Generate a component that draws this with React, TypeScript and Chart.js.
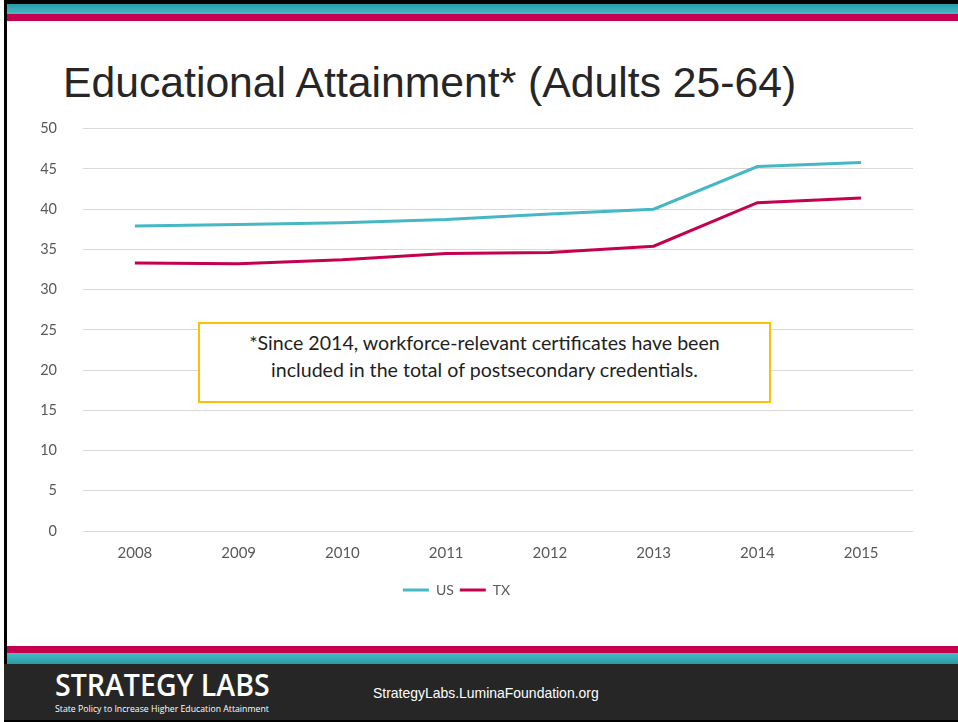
import React, { useEffect, useRef } from "react";
import { Chart, registerables } from "chart.js";

Chart.register(...registerables);

const years = ["2008", "2009", "2010", "2011", "2012", "2013", "2014", "2015"];
const usValues = [37.9, 38.1, 38.3, 38.7, 39.4, 40.0, 45.3, 45.8];
const txValues = [33.3, 33.2, 33.7, 34.5, 34.6, 35.4, 40.8, 41.4];
const yMin = 0;
const yMax = 50;
const yStep = 5;

const titleText = "Educational Attainment* (Adults 25-64)";
const noteLines = [
  "*Since 2014, workforce-relevant certificates have been",
  "included in the total of postsecondary credentials.",
];

const TEAL = "#44b8c4";
const CRIMSON = "#c4004f";

export default function App() {
  const canvasRef = useRef<HTMLCanvasElement | null>(null);

  useEffect(() => {
    const canvas = canvasRef.current;
    if (!canvas) return;
    const chart = new Chart(canvas, {
      type: "line",
      data: {
        labels: years,
        datasets: [
          {
            label: "US",
            data: usValues,
            borderColor: TEAL,
            backgroundColor: TEAL,
            borderWidth: 3,
            pointRadius: 0,
            tension: 0,
          },
          {
            label: "TX",
            data: txValues,
            borderColor: CRIMSON,
            backgroundColor: CRIMSON,
            borderWidth: 3,
            pointRadius: 0,
            tension: 0,
          },
        ],
      },
      options: {
        responsive: false,
        animation: false,
        devicePixelRatio: 1,
        layout: { padding: { left: 0, right: 45, top: 2, bottom: 3 } },
        plugins: {
          tooltip: { enabled: false },
          legend: {
            position: "bottom",
            labels: {
              usePointStyle: true,
              pointStyle: "line",
              pointStyleWidth: 26,
              padding: 6,
              color: "#595959",
              font: { family: "Lato", size: 14 },
            },
          },
        },
        scales: {
          x: {
            offset: true,
            grid: { display: false, drawTicks: false },
            border: { display: false },
            ticks: {
              color: "#595959",
              font: { family: "Lato", size: 15 },
              padding: 13,
            },
            afterFit: (scale: any) => {
              scale.height = 46;
            },
          },
          y: {
            min: yMin,
            max: yMax,
            grid: { color: "#d9d9d9", lineWidth: 1, drawTicks: false },
            border: { display: false },
            ticks: {
              stepSize: yStep,
              color: "#595959",
              font: { family: "Lato", size: 14.5 },
              padding: 26,
            },
            afterFit: (scale: any) => {
              scale.width = 83;
            },
          },
        },
      },
    });
    return () => chart.destroy();
  }, []);

  return (
    <div
      style={{
        position: "fixed",
        left: 0,
        top: 0,
        width: 958,
        height: 722,
        overflow: "hidden",
        background: "#ffffff",
      }}
    >
      {/* top border and bands */}
      <div style={{ position: "absolute", left: 4, top: 0, width: 954, height: 4, background: "#000" }} />
      <div
        style={{
          position: "absolute",
          left: 7,
          top: 4,
          width: 951,
          height: 10,
          background: "linear-gradient(#2a9aa6, #45bcc7)",
        }}
      />
      <div style={{ position: "absolute", left: 7, top: 14, width: 951, height: 7, background: CRIMSON }} />
      <div style={{ position: "absolute", left: 4, top: 0, width: 3, height: 722, background: "#000" }} />

      {/* title */}
      <div
        style={{
          position: "absolute",
          left: 63,
          top: 57,
          fontFamily: "'Liberation Sans', Arial, sans-serif",
          fontSize: 42.7,
          lineHeight: "50px",
          color: "#262626",
          whiteSpace: "nowrap",
        }}
      >
        {titleText}
      </div>

      <canvas
        ref={canvasRef}
        width={958}
        height={516}
        style={{ position: "absolute", left: 0, top: 94, width: 958, height: 516 }}
      />

      {/* note box */}
      <div
        style={{
          position: "absolute",
          left: 198,
          top: 322,
          width: 573,
          height: 81,
          boxSizing: "border-box",
          border: "2px solid #ffc000",
          background: "#ffffff",
          paddingTop: 5,
          display: "flex",
          flexDirection: "column",
          justifyContent: "flex-start",
          alignItems: "center",
          fontFamily: "Lato, sans-serif",
          fontSize: 19.6,
          lineHeight: "27px",
          color: "#1f1f1f",
          textAlign: "center",
        }}
      >
        {noteLines.map((l, i) => (
          <div key={i} style={{ whiteSpace: "nowrap" }}>
            {l}
          </div>
        ))}
      </div>

      {/* footer */}
      <div style={{ position: "absolute", left: 7, top: 646, width: 951, height: 7, background: CRIMSON }} />
      <div
        style={{
          position: "absolute",
          left: 7,
          top: 653,
          width: 951,
          height: 11,
          background: "linear-gradient(#45bcc7, #2a9aa6)",
        }}
      />
      <div style={{ position: "absolute", left: 4, top: 664, width: 954, height: 56, background: "#262626" }} />
      <div style={{ position: "absolute", left: 4, top: 720, width: 954, height: 2, background: "#000" }} />

      <div
        style={{
          position: "absolute",
          left: 55,
          top: 666,
          fontFamily: "'Open Sans', sans-serif",
          fontWeight: 600,
          fontSize: 31,
          lineHeight: "37px",
          color: "#ffffff",
          whiteSpace: "nowrap",
          transform: "scaleX(0.92)",
          transformOrigin: "left top",
        }}
      >
        STRATEGY LABS
      </div>
      <div
        style={{
          position: "absolute",
          left: 55,
          top: 703,
          fontFamily: "'Open Sans', sans-serif",
          fontSize: 9,
          lineHeight: "12px",
          color: "#ffffff",
          whiteSpace: "nowrap",
          transform: "scaleX(0.97)",
          transformOrigin: "left top",
        }}
      >
        State Policy to Increase Higher Education Attainment
      </div>
      <div
        style={{
          position: "absolute",
          left: 373,
          top: 684,
          fontFamily: "'Liberation Sans Narrow', 'Liberation Sans', sans-serif",
          fontSize: 15,
          lineHeight: "18px",
          color: "#ffffff",
          whiteSpace: "nowrap",
          transform: "scaleX(0.93)",
          transformOrigin: "left top",
        }}
      >
        StrategyLabs.LuminaFoundation.org
      </div>
    </div>
  );
}
